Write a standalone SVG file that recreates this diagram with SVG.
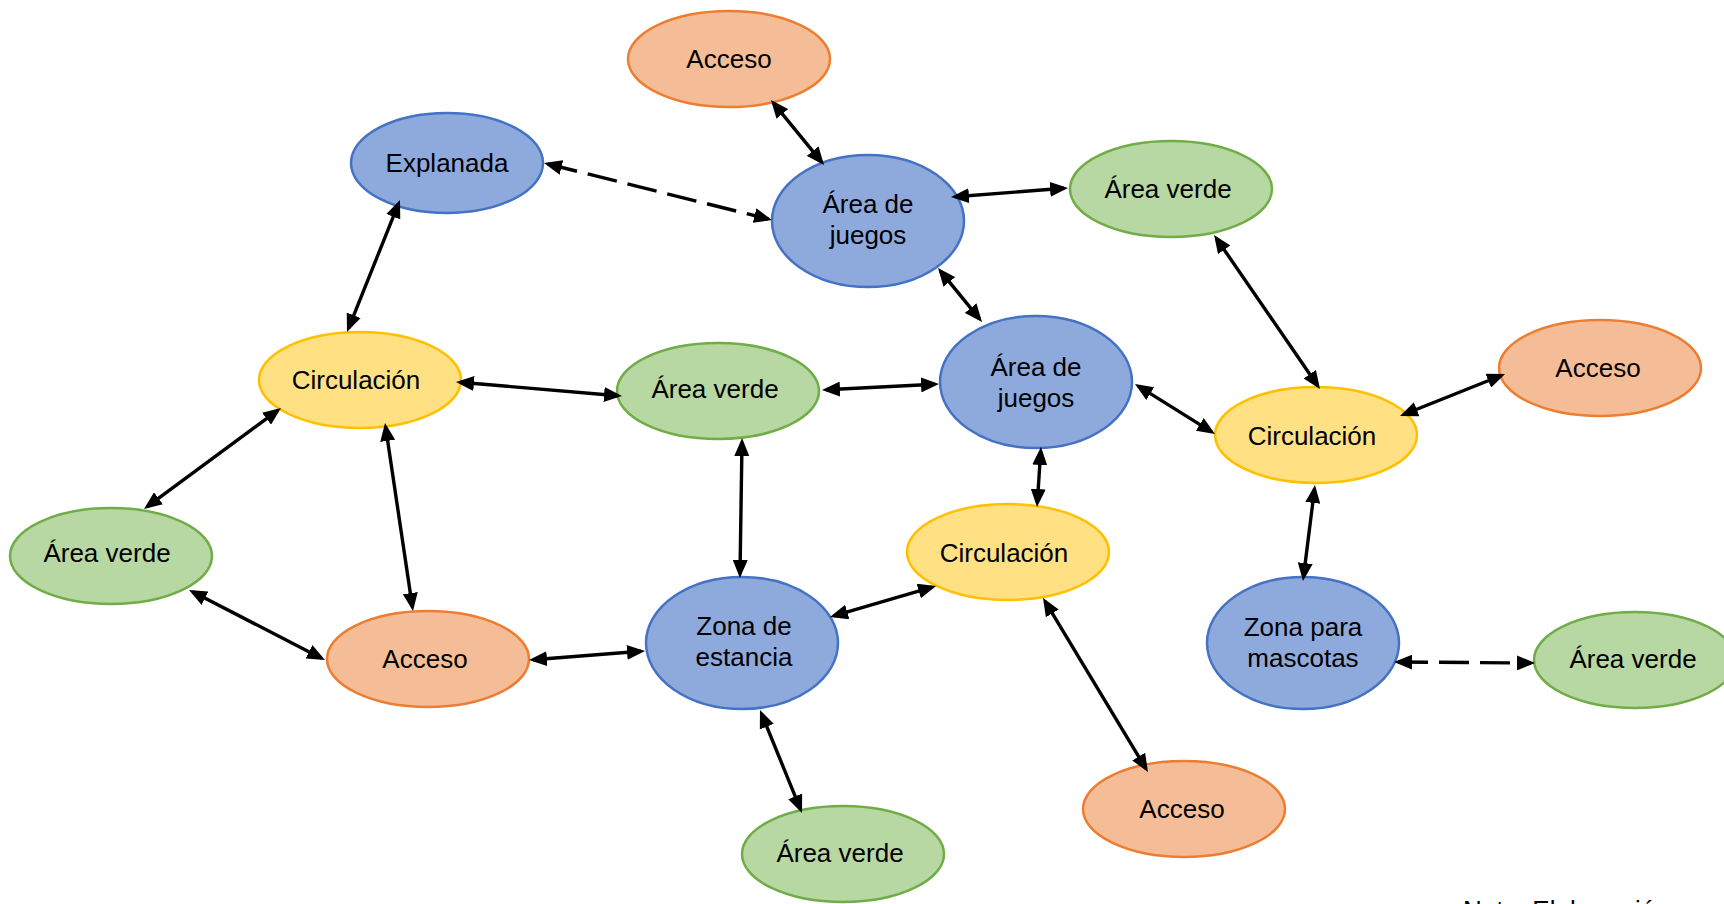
<svg xmlns="http://www.w3.org/2000/svg" width="1724" height="904" viewBox="0 0 1724 904">
<style>
text{font-family:"Liberation Sans",Arial,sans-serif;font-size:26px;fill:#000;text-anchor:middle}
.blue{fill:#8EA9DB;stroke:#4472C4;stroke-width:2.5}
.green{fill:#B7D7A3;stroke:#70AD47;stroke-width:2.5}
.orange{fill:#F5BD97;stroke:#ED7D31;stroke-width:2.5}
.yellow{fill:#FFE083;stroke:#FFC000;stroke-width:2.5}
.e{stroke:#000;stroke-width:3.4;fill:none;marker-start:url(#ah);marker-end:url(#ah)}
.d{stroke-dasharray:30 11}
</style>
<defs>
<marker id="ah" viewBox="0 0 18 15" refX="14" refY="7.5" markerWidth="18" markerHeight="15" markerUnits="userSpaceOnUse" orient="auto-start-reverse">
<path d="M0,0 L18,7.5 L0,15 z" fill="#000"/>
</marker>
</defs>
<rect width="1724" height="904" fill="#fff"/>
<g id="nodes">
<g id="acceso-top"><ellipse class="orange" cx="729" cy="59" rx="101" ry="48"/><text x="729" y="68">Acceso</text></g>
<g id="explanada"><ellipse class="blue" cx="447" cy="163" rx="96" ry="50"/><text x="447" y="172">Explanada</text></g>
<g id="juegos-1"><ellipse class="blue" cx="868" cy="221" rx="96" ry="66"/><text x="868" y="213">Área de</text><text x="868" y="244">juegos</text></g>
<g id="verde-tr"><ellipse class="green" cx="1171" cy="189" rx="101" ry="48"/><text x="1168" y="198">Área verde</text></g>
<g id="circ-left"><ellipse class="yellow" cx="360" cy="380" rx="101" ry="48"/><text x="356" y="389">Circulación</text></g>
<g id="verde-mid"><ellipse class="green" cx="718" cy="391" rx="101" ry="48"/><text x="715" y="398">Área verde</text></g>
<g id="juegos-2"><ellipse class="blue" cx="1036" cy="382" rx="96" ry="66"/><text x="1036" y="376">Área de</text><text x="1036" y="407">juegos</text></g>
<g id="circ-right"><ellipse class="yellow" cx="1316" cy="435" rx="101" ry="48"/><text x="1312" y="445">Circulación</text></g>
<g id="acceso-right"><ellipse class="orange" cx="1600" cy="368" rx="101" ry="48"/><text x="1598" y="377">Acceso</text></g>
<g id="verde-left"><ellipse class="green" cx="111" cy="556" rx="101" ry="48"/><text x="107" y="562">Área verde</text></g>
<g id="circ-mid"><ellipse class="yellow" cx="1008" cy="552" rx="101" ry="48"/><text x="1004" y="562">Circulación</text></g>
<g id="acceso-bl"><ellipse class="orange" cx="428" cy="659" rx="101" ry="48"/><text x="425" y="668">Acceso</text></g>
<g id="estancia"><ellipse class="blue" cx="742" cy="643" rx="96" ry="66"/><text x="744" y="635">Zona de</text><text x="744" y="666">estancia</text></g>
<g id="mascotas"><ellipse class="blue" cx="1303" cy="643" rx="96" ry="66"/><text x="1303" y="636">Zona para</text><text x="1303" y="667">mascotas</text></g>
<g id="verde-right"><ellipse class="green" cx="1635" cy="660" rx="101" ry="48"/><text x="1633" y="668">Área verde</text></g>
<g id="acceso-bottom"><ellipse class="orange" cx="1184" cy="809" rx="101" ry="48"/><text x="1182" y="818">Acceso</text></g>
<g id="verde-bottom"><ellipse class="green" cx="843" cy="854" rx="101" ry="48"/><text x="840" y="862">Área verde</text></g>
</g>
<g id="connectors">
<line class="e" x1="773.5" y1="103.1" x2="821.5" y2="161.9"/>
<line class="e d" x1="547.9" y1="164" x2="768.1" y2="219"/>
<line class="e" x1="955" y1="196.7" x2="1064" y2="188.3"/>
<line class="e" x1="398.5" y1="203.7" x2="348.5" y2="328.3"/>
<line class="e" x1="940.5" y1="271.1" x2="979.5" y2="318.9"/>
<line class="e" x1="1216.3" y1="238.3" x2="1317.7" y2="385.7"/>
<line class="e" x1="460" y1="382.3" x2="618" y2="395.7"/>
<line class="e" x1="826" y1="389.8" x2="935" y2="384.2"/>
<line class="e" x1="1138.4" y1="386.1" x2="1211.6" y2="431.9"/>
<line class="e" x1="1403.7" y1="414.5" x2="1501.3" y2="375.5"/>
<line class="e" x1="277.8" y1="410.4" x2="147.2" y2="506.6"/>
<line class="e" x1="385.6" y1="427" x2="412.4" y2="607"/>
<line class="e" x1="742" y1="442" x2="740" y2="574"/>
<line class="e" x1="1040.7" y1="451" x2="1037.3" y2="503"/>
<line class="e" x1="1314.5" y1="489" x2="1303.5" y2="577"/>
<line class="e" x1="192.6" y1="591.8" x2="321.4" y2="658.2"/>
<line class="e" x1="533" y1="659.7" x2="641" y2="651.3"/>
<line class="e" x1="833.8" y1="615.9" x2="932.2" y2="587.1"/>
<line class="e" x1="761.5" y1="713.7" x2="800.5" y2="809.3"/>
<line class="e" x1="1045.1" y1="601.4" x2="1145.9" y2="768.6"/>
<line class="e d" x1="1398" y1="662" x2="1531" y2="663"/>
</g>
<text x="1463" y="919" style="text-anchor:start">Nota: Elaboración</text>
</svg>
